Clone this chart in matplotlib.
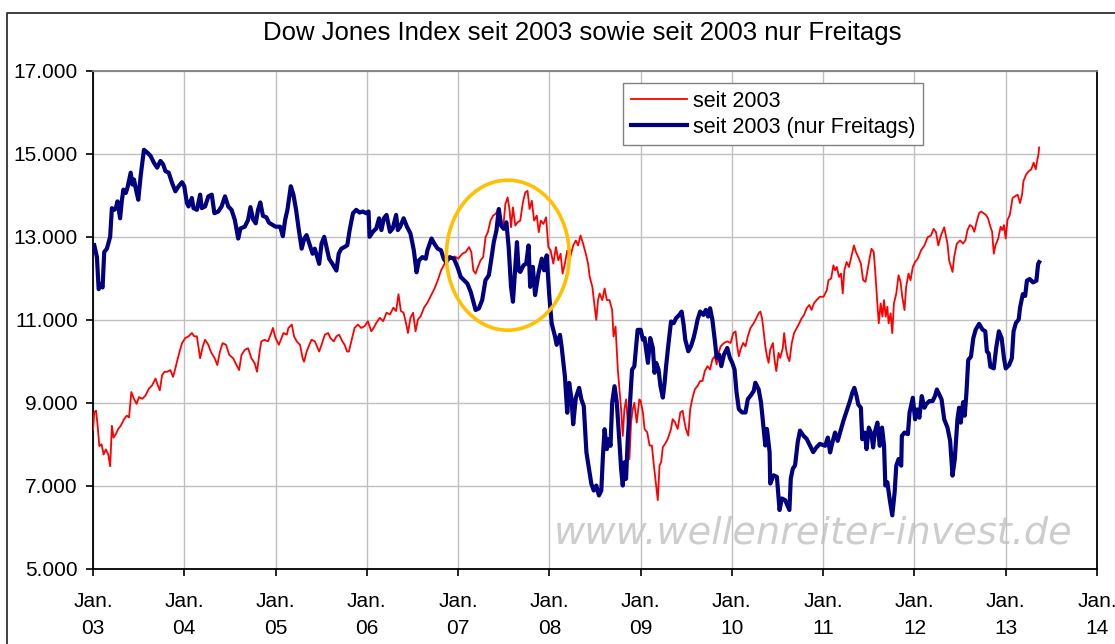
"""Dow Jones seit 2003 vs. nur Freitags - Nachbau des Excel-Charts."""

import matplotlib
matplotlib.use("Agg")
import matplotlib.pyplot as plt
from matplotlib.patches import Ellipse
from matplotlib.lines import Line2D

plt.rcParams["font.family"] = ["Liberation Sans", "DejaVu Sans"]

TITLE = "Dow Jones Index seit 2003 sowie seit 2003 nur Freitags"
WATERMARK = "www.wellenreiter-invest.de"

YEARS = list(range(2003, 2015))
X_LABELS = [f"Jan.\n{y % 100:02d}" for y in YEARS]
Y_TICKS = [5000, 7000, 9000, 11000, 13000, 15000, 17000]
Y_LABELS = ["5.000", "7.000", "9.000", "11.000", "13.000", "15.000", "17.000"]

# daily index (decimal years)
red_years = [
    2003.000, 2003.014, 2003.033, 2003.051, 2003.069, 2003.094, 2003.116, 2003.141, 2003.167, 2003.188,
    2003.207, 2003.225, 2003.250, 2003.275, 2003.304, 2003.341, 2003.370, 2003.395, 2003.420, 2003.449,
    2003.478, 2003.504, 2003.540, 2003.576, 2003.612, 2003.648, 2003.685, 2003.710, 2003.732, 2003.757,
    2003.783, 2003.812, 2003.848, 2003.877, 2003.902, 2003.920, 2003.949, 2003.975, 2004.011, 2004.047,
    2004.083, 2004.109, 2004.138, 2004.174, 2004.203, 2004.228, 2004.264, 2004.290, 2004.333, 2004.362,
    2004.391, 2004.420, 2004.457, 2004.493, 2004.536, 2004.572, 2004.601, 2004.627, 2004.663, 2004.699,
    2004.736, 2004.772, 2004.797, 2004.826, 2004.844, 2004.880, 2004.917, 2004.953, 2004.971, 2005.000,
    2005.036, 2005.087, 2005.123, 2005.141, 2005.178, 2005.203, 2005.232, 2005.268, 2005.297, 2005.312,
    2005.341, 2005.370, 2005.395, 2005.431, 2005.478, 2005.504, 2005.540, 2005.576, 2005.601, 2005.638,
    2005.667, 2005.696, 2005.732, 2005.757, 2005.783, 2005.804, 2005.830, 2005.866, 2005.902, 2005.938,
    2005.975, 2006.011, 2006.049, 2006.075, 2006.104, 2006.142, 2006.179, 2006.216, 2006.254, 2006.291,
    2006.321, 2006.347, 2006.373, 2006.403, 2006.433, 2006.451, 2006.478, 2006.507, 2006.534, 2006.560,
    2006.590, 2006.627, 2006.664, 2006.701, 2006.739, 2006.776, 2006.813, 2006.851, 2006.888, 2006.925,
    2006.963, 2007.000, 2007.047, 2007.083, 2007.120, 2007.145, 2007.167, 2007.192, 2007.217, 2007.246,
    2007.275, 2007.301, 2007.326, 2007.355, 2007.384, 2007.409, 2007.435, 2007.464, 2007.493, 2007.518,
    2007.543, 2007.565, 2007.580, 2007.601, 2007.627, 2007.652, 2007.681, 2007.710, 2007.736, 2007.761,
    2007.783, 2007.808, 2007.833, 2007.862, 2007.884, 2007.906, 2007.935, 2007.964, 2007.989, 2008.014,
    2008.043, 2008.072, 2008.098, 2008.123, 2008.145, 2008.170, 2008.196, 2008.225, 2008.261, 2008.290,
    2008.315, 2008.341, 2008.370, 2008.399, 2008.424, 2008.442, 2008.471, 2008.496, 2008.514, 2008.533,
    2008.551, 2008.580, 2008.605, 2008.630, 2008.659, 2008.688, 2008.703, 2008.725, 2008.750, 2008.768,
    2008.786, 2008.804, 2008.822, 2008.841, 2008.859, 2008.877, 2008.895, 2008.913, 2008.931, 2008.957,
    2008.986, 2009.000, 2009.025, 2009.043, 2009.072, 2009.098, 2009.123, 2009.145, 2009.170, 2009.188,
    2009.207, 2009.225, 2009.243, 2009.268, 2009.297, 2009.333, 2009.351, 2009.377, 2009.406, 2009.435,
    2009.460, 2009.478, 2009.496, 2009.522, 2009.543, 2009.569, 2009.594, 2009.623, 2009.652, 2009.678,
    2009.703, 2009.732, 2009.761, 2009.786, 2009.812, 2009.833, 2009.848, 2009.877, 2009.913, 2009.949,
    2009.986, 2010.014, 2010.040, 2010.058, 2010.076, 2010.094, 2010.123, 2010.149, 2010.174, 2010.203,
    2010.239, 2010.268, 2010.293, 2010.312, 2010.330, 2010.348, 2010.366, 2010.384, 2010.402, 2010.420,
    2010.449, 2010.467, 2010.486, 2010.511, 2010.529, 2010.558, 2010.572, 2010.594, 2010.609, 2010.630,
    2010.656, 2010.681, 2010.710, 2010.739, 2010.764, 2010.790, 2010.819, 2010.848, 2010.873, 2010.899,
    2010.928, 2010.964, 2011.004, 2011.040, 2011.058, 2011.087, 2011.112, 2011.130, 2011.149, 2011.174,
    2011.196, 2011.214, 2011.232, 2011.257, 2011.283, 2011.312, 2011.337, 2011.359, 2011.384, 2011.413,
    2011.438, 2011.464, 2011.486, 2011.511, 2011.529, 2011.554, 2011.572, 2011.591, 2011.609, 2011.630,
    2011.649, 2011.667, 2011.685, 2011.703, 2011.717, 2011.739, 2011.757, 2011.775, 2011.801, 2011.826,
    2011.848, 2011.866, 2011.891, 2011.909, 2011.935, 2011.957, 2011.982, 2012.007, 2012.036, 2012.072,
    2012.109, 2012.145, 2012.181, 2012.210, 2012.236, 2012.261, 2012.290, 2012.326, 2012.362, 2012.380,
    2012.417, 2012.435, 2012.464, 2012.500, 2012.533, 2012.559, 2012.581, 2012.607, 2012.634, 2012.656,
    2012.682, 2012.708, 2012.731, 2012.757, 2012.783, 2012.806, 2012.832, 2012.851, 2012.869, 2012.888,
    2012.918, 2012.944, 2012.963, 2012.981, 2013.000, 2013.019, 2013.045, 2013.075, 2013.101, 2013.131,
    2013.157, 2013.179, 2013.194, 2013.224, 2013.254, 2013.280, 2013.306, 2013.329, 2013.344, 2013.359,
    2013.366,
]
red_values = [
    8340, 8763, 8805, 8439, 7951, 7992, 7748, 7870, 7748, 7463,
    8439, 8154, 8236, 8358, 8439, 8602, 8683, 8642, 9252, 9089,
    8967, 9130, 9089, 9171, 9333, 9415, 9577, 9415, 9293, 9659,
    9740, 9740, 9781, 9618, 9821, 9984, 10228, 10431, 10553, 10594,
    10675, 10594, 10594, 10065, 10350, 10512, 10390, 10228, 10065, 9902,
    10228, 10431, 10390, 10147, 10065, 9902, 9781, 10147, 10268, 10309,
    10065, 9943, 9740, 10228, 10472, 10512, 10472, 10675, 10797, 10553,
    10390, 10675, 10634, 10797, 10878, 10594, 10472, 10390, 10065, 9984,
    10228, 10390, 10512, 10472, 10228, 10390, 10634, 10675, 10553, 10472,
    10594, 10634, 10472, 10390, 10228, 10228, 10472, 10797, 10878, 10797,
    10838, 10959, 10715, 10797, 10919, 11041, 10959, 11163, 11122, 11285,
    11204, 11610, 11204, 11163, 10878, 10675, 11041, 11163, 10715, 11000,
    11081, 11285, 11407, 11569, 11732, 11935, 12179, 12341, 12463, 12463,
    12520, 12465, 12585, 12625, 12745, 12625, 12186, 12106, 12266, 12425,
    12505, 12984, 13104, 13383, 13503, 13543, 13623, 13503, 13184, 13782,
    13942, 13623, 13223, 13702, 13263, 13343, 13383, 13822, 14061, 14101,
    13662, 13862, 13383, 13503, 13104, 13383, 13303, 13463, 12745, 12665,
    12346, 12745, 12425, 12585, 12106, 12346, 12665, 12465, 12784, 12904,
    12784, 13024, 12824, 12585, 12346, 12026, 11787, 11308, 10989, 11468,
    11627, 11468, 11747, 11468, 11468, 11228, 10590, 10829, 9792, 9313,
    8834, 8196, 8834, 9074, 8515, 7637, 8515, 8834, 8994, 8515,
    9074, 9039, 8760, 8362, 8282, 7963, 7963, 7485, 7007, 6648,
    7485, 7565, 7923, 8003, 8122, 8362, 8600, 8521, 8362, 8760,
    8800, 8561, 8362, 8202, 8840, 9119, 9318, 9398, 9517, 9517,
    9756, 9876, 9796, 10035, 10115, 9916, 10155, 10354, 10434, 10474,
    10434, 10673, 10713, 10354, 10115, 10275, 10434, 10354, 10593, 10792,
    10912, 11031, 11151, 11191, 11031, 10713, 10354, 10115, 9956, 10275,
    10434, 10035, 9756, 10195, 10075, 10314, 10673, 10275, 10115, 9995,
    10434, 10673, 10792, 10912, 11031, 11111, 11270, 11350, 11230, 11390,
    11470, 11549, 11548, 11707, 11947, 11987, 12306, 12186, 12266, 12026,
    12106, 11627, 12186, 12386, 12266, 12545, 12785, 12625, 12505, 12346,
    11947, 11907, 12186, 12505, 12705, 12625, 12106, 11468, 10909, 11388,
    11069, 11468, 11069, 11308, 10909, 11149, 10670, 11388, 11627, 12066,
    11907, 11548, 11228, 11787, 12106, 11947, 12266, 12386, 12465, 12665,
    12785, 12984, 13024, 13184, 13104, 12785, 13024, 13223, 12824, 12425,
    12146, 12505, 12824, 12904, 12829, 12911, 13155, 13276, 13236, 13114,
    13358, 13561, 13602, 13561, 13520, 13439, 13236, 13114, 12585, 12789,
    12951, 13236, 13155, 13276, 12951, 13398, 13520, 13927, 13968, 14008,
    13805, 14008, 14333, 14496, 14577, 14618, 14780, 14618, 14821, 14984,
    15146,
]

# Freitags-Reihe (decimal years)
blue_years = [
    2003.014, 2003.043, 2003.062, 2003.087, 2003.105, 2003.123, 2003.152, 2003.188, 2003.207, 2003.232,
    2003.250, 2003.268, 2003.297, 2003.315, 2003.333, 2003.359, 2003.377, 2003.413, 2003.431, 2003.449,
    2003.475, 2003.496, 2003.522, 2003.558, 2003.594, 2003.630, 2003.667, 2003.703, 2003.739, 2003.768,
    2003.793, 2003.830, 2003.866, 2003.902, 2003.938, 2003.975, 2004.000, 2004.029, 2004.047, 2004.083,
    2004.101, 2004.138, 2004.174, 2004.192, 2004.228, 2004.264, 2004.301, 2004.330, 2004.373, 2004.409,
    2004.446, 2004.482, 2004.518, 2004.554, 2004.591, 2004.616, 2004.663, 2004.699, 2004.725, 2004.754,
    2004.783, 2004.808, 2004.833, 2004.862, 2004.899, 2004.928, 2004.971, 2005.000, 2005.051, 2005.080,
    2005.105, 2005.130, 2005.167, 2005.196, 2005.225, 2005.250, 2005.286, 2005.315, 2005.340, 2005.370,
    2005.406, 2005.430, 2005.457, 2005.478, 2005.504, 2005.533, 2005.558, 2005.587, 2005.623, 2005.667,
    2005.692, 2005.721, 2005.757, 2005.786, 2005.812, 2005.848, 2005.884, 2005.920, 2005.957, 2005.993,
    2006.019, 2006.030, 2006.067, 2006.104, 2006.134, 2006.160, 2006.187, 2006.216, 2006.254, 2006.284,
    2006.321, 2006.340, 2006.366, 2006.403, 2006.440, 2006.478, 2006.515, 2006.545, 2006.571, 2006.608,
    2006.646, 2006.664, 2006.709, 2006.739, 2006.776, 2006.813, 2006.843, 2006.869, 2006.907, 2006.955,
    2006.993, 2007.029, 2007.065, 2007.101, 2007.138, 2007.167, 2007.192, 2007.228, 2007.264, 2007.300,
    2007.337, 2007.362, 2007.391, 2007.420, 2007.446, 2007.471, 2007.500, 2007.529, 2007.554, 2007.580,
    2007.601, 2007.627, 2007.645, 2007.663, 2007.681, 2007.717, 2007.746, 2007.772, 2007.790, 2007.819,
    2007.844, 2007.880, 2007.917, 2007.942, 2007.971, 2008.000, 2008.025, 2008.062, 2008.080, 2008.116,
    2008.134, 2008.170, 2008.196, 2008.217, 2008.243, 2008.261, 2008.290, 2008.326, 2008.351, 2008.377,
    2008.406, 2008.435, 2008.460, 2008.486, 2008.514, 2008.543, 2008.569, 2008.587, 2008.605, 2008.630,
    2008.652, 2008.670, 2008.688, 2008.714, 2008.739, 2008.768, 2008.786, 2008.804, 2008.822, 2008.840,
    2008.859, 2008.877, 2008.906, 2008.931, 2008.967, 2009.000, 2009.025, 2009.043, 2009.080, 2009.105,
    2009.134, 2009.152, 2009.170, 2009.196, 2009.217, 2009.243, 2009.261, 2009.279, 2009.304, 2009.333,
    2009.362, 2009.388, 2009.424, 2009.449, 2009.471, 2009.489, 2009.522, 2009.551, 2009.580, 2009.605,
    2009.623, 2009.652, 2009.688, 2009.714, 2009.739, 2009.761, 2009.786, 2009.812, 2009.833, 2009.859,
    2009.884, 2009.913, 2009.949, 2009.978, 2010.004, 2010.029, 2010.051, 2010.076, 2010.112, 2010.149,
    2010.174, 2010.203, 2010.239, 2010.257, 2010.293, 2010.319, 2010.348, 2010.366, 2010.384, 2010.413,
    2010.420, 2010.457, 2010.493, 2010.522, 2010.547, 2010.583, 2010.630, 2010.645, 2010.667, 2010.692,
    2010.721, 2010.746, 2010.783, 2010.819, 2010.855, 2010.891, 2010.928, 2010.964, 2011.022, 2011.051,
    2011.076, 2011.101, 2011.130, 2011.159, 2011.185, 2011.221, 2011.257, 2011.293, 2011.319, 2011.341,
    2011.366, 2011.384, 2011.413, 2011.428, 2011.457, 2011.475, 2011.500, 2011.529, 2011.547, 2011.565,
    2011.594, 2011.620, 2011.645, 2011.667, 2011.681, 2011.703, 2011.728, 2011.757, 2011.783, 2011.801,
    2011.826, 2011.855, 2011.862, 2011.891, 2011.928, 2011.946, 2011.982, 2012.007, 2012.029, 2012.054,
    2012.080, 2012.109, 2012.127, 2012.163, 2012.199, 2012.225, 2012.246, 2012.272, 2012.297, 2012.326,
    2012.362, 2012.391, 2012.417, 2012.442, 2012.471, 2012.489, 2012.507, 2012.533, 2012.551, 2012.570,
    2012.589, 2012.619, 2012.645, 2012.671, 2012.708, 2012.746, 2012.776, 2012.794, 2012.813, 2012.832,
    2012.869, 2012.895, 2012.925, 2012.955, 2012.981, 2013.000, 2013.037, 2013.067, 2013.086, 2013.112,
    2013.142, 2013.157, 2013.187, 2013.213, 2013.232, 2013.262, 2013.299, 2013.336, 2013.355, 2013.366,
]
blue_values = [
    12789, 12504, 11732, 11854, 11772, 12626, 12707, 12992, 13683, 13642,
    13683, 13846, 13439, 13846, 14130, 14049, 14171, 14537, 14252, 14374,
    14089, 13886, 14455, 15089, 15024, 14943, 14780, 14659, 14821, 14740,
    14577, 14537, 14293, 14089, 14211, 14309, 14211, 13805, 13724, 13927,
    13683, 13642, 14008, 13683, 13724, 13968, 14008, 13561, 13602, 13724,
    13968, 13724, 13642, 13398, 12951, 13195, 13236, 13398, 13707, 13415,
    13317, 13642, 13821, 13496, 13463, 13333, 13276, 13236, 13236, 13008,
    13398, 13642, 14211, 14008, 13642, 13236, 12707, 12951, 13033, 12829,
    12585, 12707, 12504, 12341, 12829, 12992, 12748, 12463, 12341, 12179,
    12585, 12707, 12748, 12789, 13155, 13561, 13642, 13577, 13602, 13561,
    13602, 12992, 13114, 13195, 13439, 13155, 13439, 13520, 13114, 13195,
    13520, 13155, 13236, 13439, 13236, 13073, 12667, 12138, 12423, 12504,
    12463, 12667, 12951, 12829, 12707, 12667, 12463, 12382, 12504, 12463,
    12266, 12026, 11947, 11867, 11667, 11428, 11228, 11268, 11468, 11947,
    12066, 12425, 12864, 13144, 13662, 13263, 13184, 13343, 12745, 11787,
    11428, 12266, 12864, 12186, 12146, 12306, 12346, 12784, 11787, 12266,
    11588, 12106, 12465, 12186, 12545, 11548, 10909, 10590, 10390, 10630,
    10350, 9632, 8754, 9473, 9074, 8475, 9114, 9353, 9074, 8914,
    7797, 7398, 7039, 6879, 6999, 6760, 6879, 7717, 8356, 7877,
    8116, 7956, 8994, 9393, 8994, 8036, 7398, 6999, 7558, 7159,
    8116, 8754, 9792, 9872, 10749, 10752, 10513, 10553, 9955, 10553,
    10314, 9716, 9955, 9796, 9398, 9119, 9437, 9876, 10394, 10952,
    10912, 11031, 11111, 11191, 10872, 10513, 10234, 10354, 10553, 10792,
    10991, 11191, 11111, 11231, 11071, 11271, 10991, 10513, 10075, 10155,
    9876, 10154, 10314, 10075, 9955, 9796, 9238, 8840, 8760, 8760,
    9079, 9159, 9278, 9477, 9318, 8999, 8362, 7964, 8362, 7804,
    7047, 7246, 7206, 6409, 6688, 6648, 6409, 7166, 7405, 7485,
    8043, 8322, 8202, 8123, 7963, 7804, 7923, 8003, 7957, 8156,
    7797, 8036, 8276, 8076, 8276, 8555, 8795, 9034, 9233, 9353,
    9154, 8954, 8874, 8116, 8276, 7877, 8395, 8236, 7917, 8276,
    8515, 7957, 8395, 7957, 6999, 7079, 6680, 6281, 6839, 7478,
    7637, 7478, 8196, 8276, 8236, 8755, 9114, 8595, 8834, 8635,
    9154, 8874, 8954, 9034, 9034, 9154, 9313, 9194, 9074, 8595,
    8395, 8076, 7238, 7637, 8595, 8874, 8515, 9008, 8683, 9252,
    10024, 10106, 10553, 10756, 10894, 10756, 10716, 10228, 10187, 9862,
    9821, 10309, 10716, 10553, 10065, 9821, 9902, 10065, 10716, 10919,
    11000, 11285, 11610, 11569, 11935, 11976, 11894, 11935, 12341, 12382,
]

W, H = 1115, 644


def main():
    fig = plt.figure(figsize=(W / 100, H / 100), dpi=100)
    ax = fig.add_axes([93 / W, 1 - 568.5 / H, (1097 - 93) / W, (568.5 - 70.5) / H])

    ax.plot(red_years, red_values, color="#ff0000", lw=1.3, label="seit 2003", zorder=3)
    ax.plot(blue_years, blue_values, color="#000080", lw=3.0, solid_joinstyle="round",
            label="seit 2003 (nur Freitags)", zorder=4)

    ax.set_xlim(2003, 2014)
    ax.set_ylim(5000, 17000)
    ax.set_xticks(YEARS)
    ax.set_xticklabels(X_LABELS, linespacing=1.55)
    ax.set_yticks(Y_TICKS)
    ax.set_yticklabels(Y_LABELS)
    ax.tick_params(axis="both", direction="out", length=5, width=1.2, labelsize=15, color="black")
    ax.tick_params(axis="y", pad=6)
    ax.tick_params(axis="x", pad=12)
    ax.grid(True, color="#c0c0c0", lw=1.0, zorder=1)
    ax.set_axisbelow(True)

    for side in ("left", "bottom", "right"):
        ax.spines[side].set_color("black")
        ax.spines[side].set_linewidth(1.3)
    ax.spines["top"].set_color("#808080")
    ax.spines["top"].set_linewidth(1.3)

    # orange circle around the 2007 top
    ax.add_patch(Ellipse((2007.545, 12550), 1.346, 3615, fill=False,
                         edgecolor="#ffc000", lw=2.6, zorder=5))

    ax.text(0.7176, 0.07, WATERMARK, transform=ax.transAxes, ha="center", va="center",
            fontsize=27.5, style="italic", family="DejaVu Sans", color="#c8c8c8",
            alpha=0.9, zorder=0.3)

    fig.text(582.5 / W, 1 - 33 / H, TITLE, ha="center", va="center", fontsize=18.5)

    leg = ax.legend(loc="upper left", bbox_to_anchor=(623 / W, 1 - 83 / H),
                    bbox_transform=fig.transFigure, fontsize=15.5, frameon=True,
                    fancybox=False, framealpha=1, edgecolor="#808080",
                    handlelength=2.6, handletextpad=0.3, labelspacing=0.25,
                    borderpad=0.35, borderaxespad=0)
    leg.get_frame().set_linewidth(1.0)

    # outer chart border (left and top visible)
    fig.add_artist(Line2D([7 / W, 7 / W, 1.0], [0.0, 1 - 13 / H, 1 - 13 / H],
                          transform=fig.transFigure, color="#303030", lw=1.3))

    fig.savefig("out.png", dpi=100)
    plt.close(fig)


if __name__ == "__main__":
    main()
